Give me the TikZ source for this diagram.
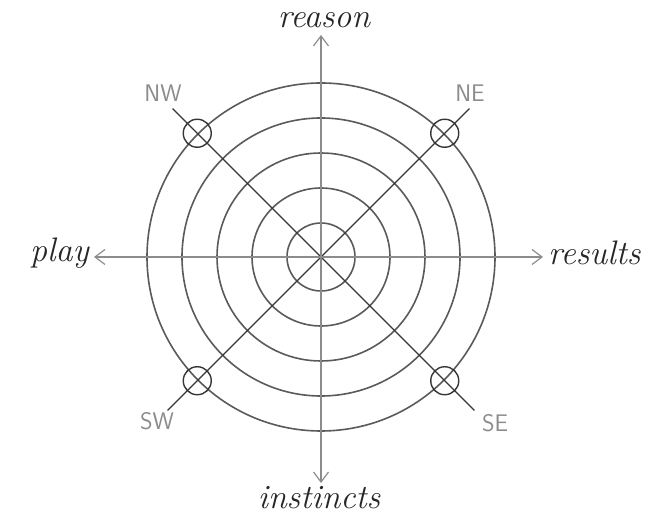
\documentclass[tikz,border=0pt]{standalone}
\usepackage{fontspec}
\usepackage{tikz}
\usetikzlibrary{positioning, arrows.meta, calc}
\definecolor{pencil}{HTML}{5A5A5A}
\definecolor{lightpencil}{HTML}{8C8C8C}
\definecolor{darkpencil}{HTML}{353535}
\tikzset{
  ring/.style={draw=pencil, line width=1.6pt},
  axis/.style={draw=lightpencil, line width=1.2pt, -{Straight Barb[length=10pt,width=15pt]}},
  diag/.style={draw=darkpencil, line width=1.1pt},
  marker/.style={circle, draw=darkpencil, line width=1.4pt, minimum size=28pt, inner sep=0pt},
  word/.style={font=\fontsize{34}{36}\selectfont\itshape, text=black!85, inner sep=0pt},
  point/.style={font=\fontsize{24}{26}\selectfont\sffamily, text=lightpencil, inner sep=0pt}
}
\begin{document}
\begin{tikzpicture}[x=1pt, y=1pt]
  \useasboundingbox (0,0) rectangle (648,519);
  \coordinate (O) at (321,262);

  % rings
  \foreach \r in {34,69,104,139,174}
    \draw[ring] (O) circle (\r pt);

  % diagonals
  \coordinate (neEnd) at ($(O)+(45:210)$);
  \coordinate (nwEnd) at ($(O)+(135:210)$);
  \coordinate (swEnd) at ($(O)+(225:217)$);
  \coordinate (seEnd) at ($(O)+(315:217)$);
  \draw[diag] (nwEnd) -- (seEnd);
  \draw[diag] (swEnd) -- (neEnd);

  % markers on the outer ring
  \node[marker] (neMark) at ($(O)+(45:175)$) {};
  \node[marker] (nwMark) at ($(O)+(135:175)$) {};
  \node[marker] (swMark) at ($(O)+(225:175)$) {};
  \node[marker] (seMark) at ($(O)+(315:175)$) {};

  \node[point] (nwLabel) at (163,426) {NW};
  \node[point] (neLabel) at (470,426) {NE};
  \node[point] (swLabel) at (157,98) {SW};
  \node[point] (seLabel) at (495,96) {SE};

  % axes
  \coordinate (northTip) at (321,484);
  \coordinate (southTip) at (321,36);
  \coordinate (westTip) at (94,262);
  \coordinate (eastTip) at (543,262);
  \draw[axis] (O) -- (northTip);
  \draw[axis] (O) -- (southTip);
  \draw[axis] (O) -- (westTip);
  \draw[axis] (O) -- (eastTip);

  \node[word, anchor=base] (reason) at (324,491) {reason};
  \node[word, anchor=base east] (play) at (89,257) {play};
  \node[word, anchor=base west] (results) at (548,254) {results};
  \node[word, anchor=base] (instincts) at (319,10) {instincts};
\end{tikzpicture}
\end{document}
